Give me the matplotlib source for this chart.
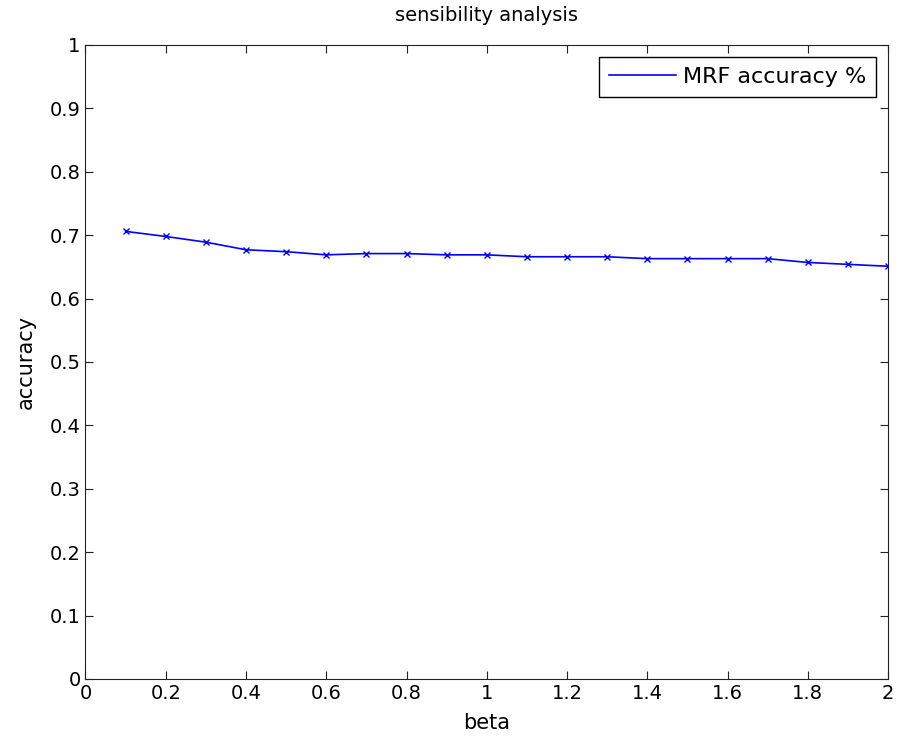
import numpy as np
import matplotlib
matplotlib.use("Agg")
import matplotlib.pyplot as plt

beta = [0.1, 0.2, 0.3, 0.4, 0.5, 0.6, 0.7, 0.8, 0.9, 1.0,
        1.1, 1.2, 1.3, 1.4, 1.5, 1.6, 1.7, 1.8, 1.9, 2.0]
accuracy = [0.706, 0.698, 0.689, 0.677, 0.674, 0.669, 0.671, 0.671, 0.669, 0.669,
            0.666, 0.666, 0.666, 0.663, 0.663, 0.663, 0.663, 0.657, 0.654, 0.651]
xticks = [0, 0.2, 0.4, 0.6, 0.8, 1, 1.2, 1.4, 1.6, 1.8, 2]
yticks = [0, 0.1, 0.2, 0.3, 0.4, 0.5, 0.6, 0.7, 0.8, 0.9, 1]

plt.rcParams['font.family'] = ['DejaVu Sans']

fig = plt.figure(figsize=(8.97, 7.45), dpi=100)
ax = fig.add_axes([0.0953, 0.0886, 0.8947, 0.851])

ax.plot(beta, accuracy, color="blue", marker="x", markersize=5, linewidth=1.2,
        label="MRF accuracy %")

ax.set_xlim(0, 2)
ax.set_ylim(0, 1)
ax.set_xticks(xticks)
ax.set_xticklabels([f"{t:g}" for t in xticks])
ax.set_yticks(yticks)
ax.set_yticklabels([f"{t:g}" for t in yticks])
ax.tick_params(direction="in", top=True, right=True, labelsize=14, length=6, color="#222222")
for s in ax.spines.values():
    s.set_color("#222222")

ax.set_title("sensibility analysis", fontsize=14, pad=17)
ax.set_xlabel("beta", fontsize=15, labelpad=7)
ax.set_ylabel("accuracy", fontsize=15, labelpad=10)

leg = ax.legend(loc="upper right", fontsize=16, fancybox=False, framealpha=1,
                edgecolor="black", handlelength=3.0, handletextpad=0.3,
                borderpad=0.45, borderaxespad=0.55)
leg.get_frame().set_linewidth(1.0)
for h in leg.legend_handles:
    h.set_marker("")

fig.savefig("out.png", dpi=100)
